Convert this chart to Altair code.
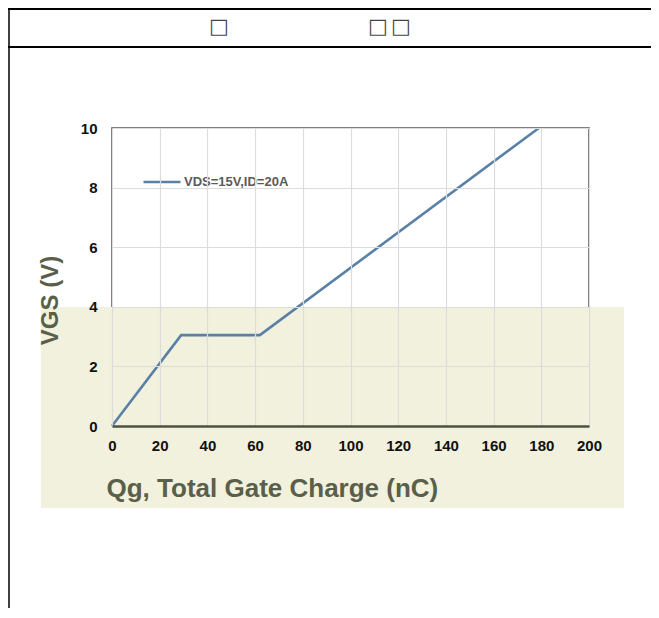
import altair as alt
import pandas as pd

# ---- data ----
qg = [0, 29, 62, 179]           # total gate charge (nC)
vgs = [0, 3.05, 3.05, 10]       # gate-source voltage (V)
series_name = "VDS=15V,ID=20A"
x_ticks = [0, 20, 40, 60, 80, 100, 120, 140, 160, 180, 200]
y_ticks = [0, 2, 4, 6, 8, 10]
header_text = ["□", "□", "□"]

df = pd.DataFrame({"Qg": qg, "VGS": vgs, "series": [series_name] * len(qg)})
deco = pd.DataFrame({"k": [0]})

W, H = 477, 298
FONT = "Liberation Sans"

x_enc = alt.X("Qg:Q", scale=alt.Scale(domain=[0, 200], nice=False),
              axis=alt.Axis(values=x_ticks, title="Qg, Total Gate Charge (nC)",
                            labelFontSize=15, labelFontWeight="bold", labelColor="#111",
                            labelPadding=12, labelFlush=False, ticks=False,
                            domain=True, domainColor="#4d5240", domainWidth=2.5,
                            gridColor="#dcdcdc", gridWidth=1.2,
                            titleFontSize=26, titleFontWeight="bold", titleColor="#5a5f4a",
                            titleX=-6, titleY=70, titleAlign="left", titleBaseline="alphabetic",
                            zindex=1))
y_enc = alt.Y("VGS:Q", scale=alt.Scale(domain=[0, 10], nice=False),
              axis=alt.Axis(values=y_ticks, title="VGS (V)",
                            labelFontSize=15, labelFontWeight="bold", labelColor="#111",
                            labelPadding=15, labelFlush=False, ticks=False, domain=False,
                            gridColor="#dcdcdc", gridWidth=1.2,
                            titleFontSize=24, titleFontWeight="bold", titleColor="#5a5f4a",
                            titleX=-62, titleY=172, titleAngle=270, titleAlign="center",
                            titleBaseline="middle", zindex=1))

# pale background of the lower (pasted) part
bg = alt.Chart(deco).mark_rect(color="#f1f1dd").encode(
    x=alt.value(-71), x2=alt.value(512), y=alt.value(179), y2=alt.value(380))

line = alt.Chart(df).mark_line(strokeWidth=2.6).encode(
    x=x_enc, y=y_enc,
    color=alt.Color("series:N", scale=alt.Scale(range=["#5b80a8"]),
                    legend=alt.Legend(title=None, orient="none", legendX=30, legendY=34,
                                      symbolType="stroke", symbolSize=1369,
                                      symbolStrokeWidth=2.6, labelFontSize=13,
                                      labelFontWeight="bold", labelColor="#5a5a5a",
                                      labelFont=FONT, labelOffset=2)))

# table-like frame lines around the figure
rule_top = alt.Chart(deco).mark_rule(color="#000", strokeWidth=2).encode(
    x=alt.value(-104), x2=alt.value(539), y=alt.value(-119))
rule_mid = alt.Chart(deco).mark_rule(color="#000", strokeWidth=2).encode(
    x=alt.value(-104), x2=alt.value(539), y=alt.value(-81))
rule_left = alt.Chart(deco).mark_rule(color="#000", strokeWidth=1.5).encode(
    x=alt.value(-103), y=alt.value(-120), y2=alt.value(480))

hdr = [
    alt.Chart(deco).mark_text(text=t, fontSize=21, color="#444", font="DejaVu Sans").encode(
        x=alt.value(px), y=alt.value(-101))
    for t, px in zip(header_text, [107, 266, 289])
]

chart = alt.layer(bg, line, rule_top, rule_mid, rule_left, *hdr).properties(
    width=W, height=H,
    autosize=alt.AutoSizeParams(type="none"),
    padding={"left": 104, "top": 120, "right": 62, "bottom": 182},
).configure(font=FONT).configure_view(stroke="#555", strokeWidth=1.6)

chart.save("out.html", embed_options={"renderer": "svg", "actions": False})
